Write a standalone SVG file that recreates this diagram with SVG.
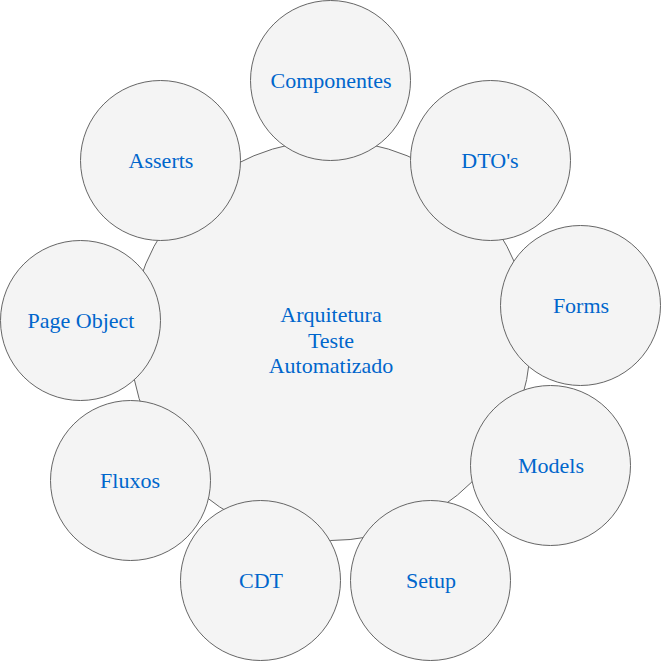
<svg xmlns="http://www.w3.org/2000/svg" width="661" height="661" viewBox="0 0 661 661">
<style>
.c{fill:#f4f4f4;stroke:#666666;stroke-width:1}
.t{font-family:"Liberation Serif","Times New Roman",serif;font-size:22px;fill:#0066CC;text-anchor:middle}
</style>
<rect width="661" height="661" fill="#ffffff"/>
<g id="center"><circle class="c" cx="330.5" cy="340.5" r="200"/><text class="t"><tspan x="331" y="322">Arquitetura</tspan><tspan x="331" y="347.5">Teste</tspan><tspan x="331" y="373">Automatizado</tspan></text></g>
<g id="componentes"><circle class="c" cx="330.5" cy="80.5" r="80"/><text class="t" x="331" y="88">Componentes</text></g>
<g id="dtos"><circle class="c" cx="490.5" cy="160.5" r="80"/><text class="t" x="490" y="168">DTO's</text></g>
<g id="forms"><circle class="c" cx="580.5" cy="305.5" r="80"/><text class="t" x="581" y="313">Forms</text></g>
<g id="models"><circle class="c" cx="550.5" cy="465.5" r="80"/><text class="t" x="551" y="473">Models</text></g>
<g id="setup"><circle class="c" cx="430.5" cy="580.5" r="80"/><text class="t" x="431" y="588">Setup</text></g>
<g id="cdt"><circle class="c" cx="260.5" cy="580.5" r="80"/><text class="t" x="261" y="588">CDT</text></g>
<g id="fluxos"><circle class="c" cx="130.5" cy="480.5" r="80"/><text class="t" x="130" y="488">Fluxos</text></g>
<g id="pageobject"><circle class="c" cx="80.5" cy="320.5" r="80"/><text class="t" x="81" y="328">Page Object</text></g>
<g id="asserts"><circle class="c" cx="160.5" cy="160.5" r="80"/><text class="t" x="161" y="168">Asserts</text></g>
<g id="connectors"></g>
</svg>
